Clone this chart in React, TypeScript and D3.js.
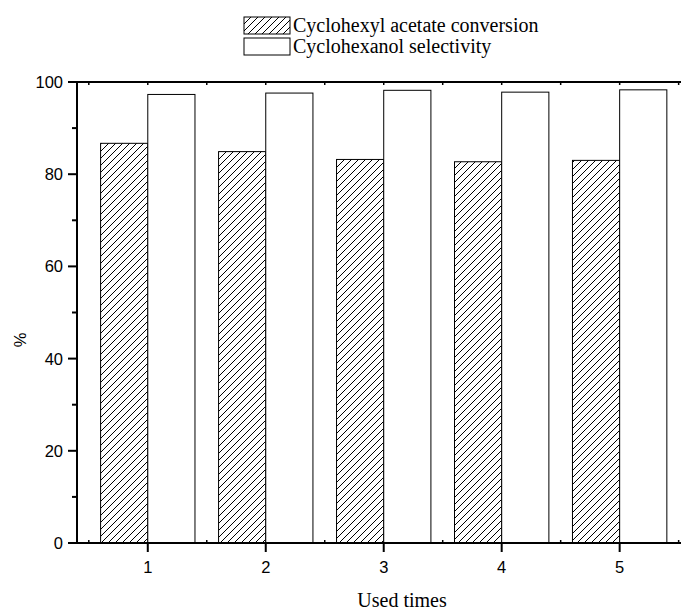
import React from 'react';
import * as d3 from 'd3';

const categories = [1, 2, 3, 4, 5];
const conversion = [86.7, 84.9, 83.2, 82.7, 83.0];
const selectivity = [97.3, 97.6, 98.2, 97.8, 98.3];
const yTicks = [0, 20, 40, 60, 80, 100];
const yMinor = [10, 30, 50, 70, 90];
const legendLabels = ['Cyclohexyl acetate conversion', 'Cyclohexanol selectivity'];

const W = 681;
const H = 612;
const left = 77;
const right = 681;
const top = 82;
const bottom = 543;

const App = () => {
  const x = d3.scaleLinear().domain([0.4, 5.52]).range([left, right]);
  const y = d3.scaleLinear().domain([0, 100]).range([bottom, top]);
  const halfW = 0.4;
  const xMinor = d3.range(0.5, 5.6, 1);
  const axisFont = '"Liberation Sans", Arial, sans-serif';
  const serif = '"Liberation Serif", "Times New Roman", serif';

  return (
    <svg width={W} height={H} style={{ position: 'absolute', left: 0, top: 0, background: '#fff' }}>
      <defs>
        <pattern id="hatch" patternUnits="userSpaceOnUse" width={7} height={7}>
          <path d="M-1,1 l2,-2 M0,7 l7,-7 M6,8 l2,-2" stroke="#000" strokeWidth={1} />
        </pattern>
      </defs>
      <rect width={W} height={H} fill="#fff" />

      {/* bars */}
      {categories.map((c, i) => (
        <g key={c}>
          <rect
            x={x(c - halfW)}
            y={y(conversion[i])}
            width={x(c) - x(c - halfW)}
            height={y(0) - y(conversion[i])}
            fill="url(#hatch)"
            stroke="#000"
            strokeWidth={1}
          />
          <rect
            x={x(c)}
            y={y(selectivity[i])}
            width={x(c + halfW) - x(c)}
            height={y(0) - y(selectivity[i])}
            fill="#fff"
            stroke="#000"
            strokeWidth={1}
          />
        </g>
      ))}

      {/* axes frame */}
      <line x1={left} x2={right} y1={top} y2={top} stroke="#000" strokeWidth={2} />
      <line x1={left} x2={right} y1={bottom} y2={bottom} stroke="#000" strokeWidth={2} />
      <line x1={left} x2={left} y1={top} y2={bottom + 1} stroke="#000" strokeWidth={2} />

      {/* y ticks */}
      {yTicks.map((t) => (
        <g key={t}>
          <line x1={left - 9} x2={left} y1={y(t)} y2={y(t)} stroke="#000" strokeWidth={2} />
          <text x={left - 14} y={y(t)} dy="0.36em" textAnchor="end" fontFamily={axisFont} fontSize={16.5}>
            {t}
          </text>
        </g>
      ))}
      {yMinor.map((t) => (
        <line key={t} x1={left - 5} x2={left} y1={y(t)} y2={y(t)} stroke="#000" strokeWidth={2} />
      ))}

      {/* x ticks */}
      {categories.map((c) => (
        <g key={c}>
          <line x1={x(c)} x2={x(c)} y1={bottom} y2={bottom + 9} stroke="#000" strokeWidth={2} />
          <line x1={x(c)} x2={x(c)} y1={top} y2={top + 3} stroke="#000" strokeWidth={1.5} />
          <text x={x(c)} y={bottom + 30} textAnchor="middle" fontFamily={axisFont} fontSize={16.5}>
            {c}
          </text>
        </g>
      ))}
      {xMinor.map((m) => (
        <g key={m}>
          <line x1={x(m)} x2={x(m)} y1={bottom - 3} y2={bottom} stroke="#000" strokeWidth={1.5} />
          <line x1={x(m)} x2={x(m)} y1={top} y2={top + 3} stroke="#000" strokeWidth={1.5} />
        </g>
      ))}

      {/* axis titles */}
      <text
        transform="translate(26,340) rotate(-90)"
        textAnchor="middle"
        fontFamily={axisFont}
        fontSize={16.5}
      >
        %
      </text>
      <text x={402} y={607} textAnchor="middle" fontFamily={serif} fontSize={20}>
        Used times
      </text>

      {/* legend */}
      {legendLabels.map((lab, i) => (
        <g key={lab} transform={`translate(244,${17 + i * 21})`}>
          <rect width={46} height={17} fill={i === 0 ? 'url(#hatch)' : '#fff'} stroke="#000" strokeWidth={1} />
          <text x={49} y={15} fontFamily={serif} fontSize={20}>
            {lab}
          </text>
        </g>
      ))}
    </svg>
  );
};

export default App;
